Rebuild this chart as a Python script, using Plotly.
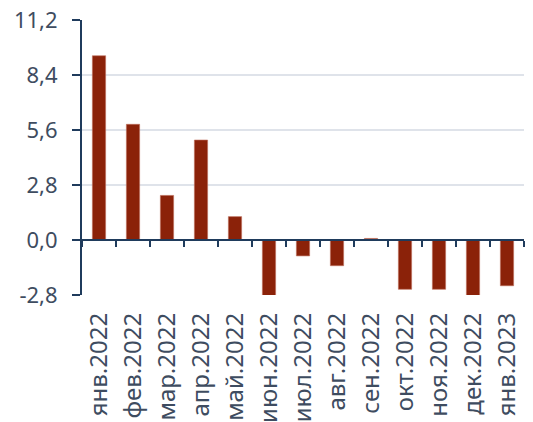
import plotly.graph_objects as go

# Monthly values, %
months = ["янв.2022", "фев.2022", "мар.2022", "апр.2022", "май.2022", "июн.2022",
          "июл.2022", "авг.2022", "сен.2022", "окт.2022", "ноя.2022", "дек.2022", "янв.2023"]
values = [9.38, 5.89, 2.27, 5.09, 1.19, -3.2, -0.81, -1.31, 0.08, -2.51, -2.51, -3.0, -2.33]

y_ticks = [-2.8, 0.0, 2.8, 5.6, 8.4, 11.2]
y_tick_labels = ["-2,8", "0,0", "2,8", "5,6", "8,4", "11,2"]

bar_color = "#8b2209"
axis_color = "#1f3b5c"
text_color = "#3e4c60"
grid_color = "#dfe3ea"

fig = go.Figure()
fig.add_trace(go.Bar(
    x=months, y=values,
    marker=dict(color=bar_color, line=dict(color="#c0705e", width=0.6)),
    hoverinfo="x+y", showlegend=False,
))
# helper trace that carries the category axis drawn along y = 0
fig.add_trace(go.Scatter(
    x=months, y=values, xaxis="x2", yaxis="y",
    mode="lines", line=dict(width=0), opacity=0,
    hoverinfo="skip", showlegend=False,
))

y_min, y_max = y_ticks[0], y_ticks[-1]
zero_pos = (0 - y_min) / (y_max - y_min)
x_range = [-0.5, len(months) - 0.5]

fig.update_layout(
    width=533, height=422,
    margin=dict(l=82, r=9, t=20, b=127),
    paper_bgcolor="white", plot_bgcolor="white",
    font=dict(family="Noto Sans", size=24, color=text_color),
    bargap=0.61,
    xaxis=dict(
        type="category", range=x_range, showline=False, ticks="", tickangle=-90,
        showgrid=False, zeroline=False, automargin=False, ticklabelstandoff=12,
        tickfont=dict(size=24, color=text_color),
    ),
    xaxis2=dict(
        type="category", range=x_range, overlaying="x", anchor="free", position=zero_pos,
        showline=True, linecolor=axis_color, linewidth=2,
        ticks="outside", tickson="boundaries", ticklen=6, tickwidth=2,
        tickcolor=axis_color, showticklabels=False, showgrid=False, zeroline=False,
    ),
    yaxis=dict(
        range=[y_min, y_max], tickvals=y_ticks, ticktext=y_tick_labels,
        showline=True, linecolor=axis_color, linewidth=2,
        ticks="outside", ticklen=8, tickwidth=2, tickcolor=axis_color,
        showgrid=True, gridcolor=grid_color, gridwidth=2,
        zeroline=False, automargin=False, ticklabelstandoff=10,
        tickfont=dict(size=22, color=text_color),
    ),
)

fig.write_html("out.html")
